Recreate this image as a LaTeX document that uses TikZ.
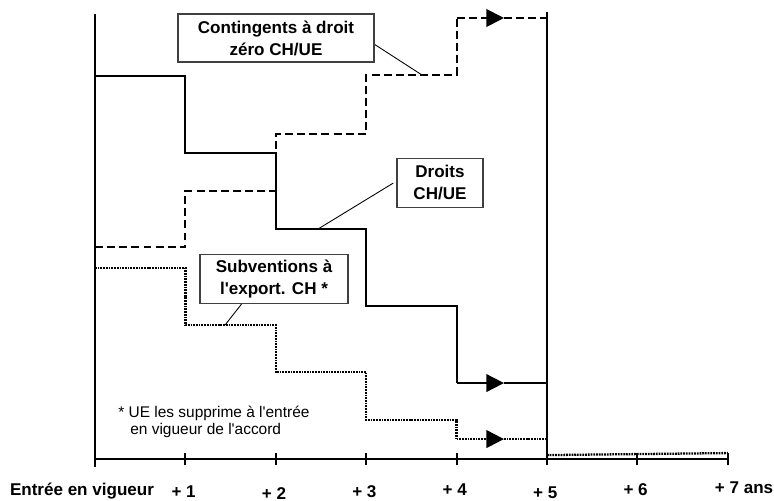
\documentclass[tikz,border=0pt]{standalone}
\usepackage{fontspec}
\setmainfont{Liberation Sans}[Ligatures=TeXOff]
\usepackage{tikz}
\usetikzlibrary{arrows.meta}
\usetikzlibrary{positioning}
\colorlet{colorBOX}{black!75}
\colorlet{colorLINE}{black}
\tikzset{
   every path/.style={>={Triangle[length=10pt,width=10pt]}},
   axe/.style={color=colorLINE,line width=1.1pt},
   fin/.style={color=colorLINE,line width=0.9pt},
   droits/.style={color=colorLINE,line width=1.1pt},
   conting/.style={color=colorLINE,line width=1.1pt,dash pattern=on 4.5pt off 2.4pt},
   subv/.style={color=colorLINE,line width=1.3pt,dash pattern=on 1pt off 0.55pt},
   leader/.style={color=colorLINE,line width=0.5pt},
   lbox/.style={draw=colorBOX,line width=0.6pt,fill=white,align=center,inner sep=0pt,
     font=\fontsize{9.7}{12.5}\selectfont\bfseries},
   ticklab/.style={font=\fontsize{9.7}{12}\selectfont\bfseries},
}

\begin{document}
\begin{tikzpicture}[x=1.808cm,y=0.02cm]
  \useasboundingbox (-1.051,-41) rectangle (7.511,459);

  %% axes
  \draw[axe] (0,445) -- (0,-8);
  \draw[axe] (0,0) -- (7,0);
  \foreach \x in {1,...,7}
    \draw[axe] (\x,-6) -- (\x,6);
  \draw[fin] (5,447) -- (5,-4);

  %% droits
  \draw[droits] (0,383) -- (1,383) -- (1,306) -- (2,306) -- (2,230) -- (3,230)
     -- (3,153) -- (4,153) -- (4,76);
  \draw[droits,->] (4,76) -- (4.524,76);
  \draw[droits] (4.524,76) -- (5,76);

  %% contingents
  \draw[conting] (0,212) -- (1,212) -- (1,268) -- (2,268) -- (2,325) -- (3,325)
     -- (3,384) -- (4,384) -- (4,441);
  \draw[conting,->] (4,441) -- (4.524,441);
  \draw[conting] (4.524,441) -- (5,441);

  %% subventions
  \draw[subv] (0,191) -- (1,191) -- (1,134) -- (2,134) -- (2,87) -- (3,87)
     -- (3,39) -- (4,39) -- (4,20);
  \draw[subv,->] (4,20) -- (4.524,20);
  \draw[subv] (4.524,20) -- (5,20);
  \draw[subv] (5,4) -- (7,6);

  \coordinate (conpt) at (3.617,384);
  \coordinate (droipt) at (2.467,230);
  \coordinate (subpt) at (1.438,134);

  \draw[leader] (3.0,420) -- (conpt);
  \draw[leader] (3.3,276) -- (droipt);
  \draw[leader] (2.013,200) -- (subpt);

  \node[lbox,minimum width=3.92cm,minimum height=0.96cm] (conbox) at (2.002,421)
     {Contingents à droit\\zéro CH/UE};
  \node[lbox,minimum width=1.72cm,minimum height=0.98cm] (droibox) at (3.816,276.5)
     {Droits\\CH/UE};
  \node[lbox,minimum width=2.96cm,minimum height=0.98cm] (subbox) at (1.98,180.5)
     {Subventions à\\l'export. CH *};

  \node[anchor=west,inner sep=0pt,align=left,font=\fontsize{8.8}{9.5}\selectfont]
     (note) at (0.254,37.5)
     {* UE les supprime à l'entrée\\\hspace*{0.24cm}en vigueur de l'accord};

  \node[ticklab] (t0) at (-0.144,-32) {Entrée en vigueur};
  \foreach \x/\yy in {1/-33,2/-34,3/-33,4/-31,5/-34,6/-31}
    \node[ticklab] (t\x) at (\x-0.02,\yy) {+ \x};
  \node[ticklab] (t7) at (7.18,-29) {+ 7 ans};
\end{tikzpicture}
\end{document}
